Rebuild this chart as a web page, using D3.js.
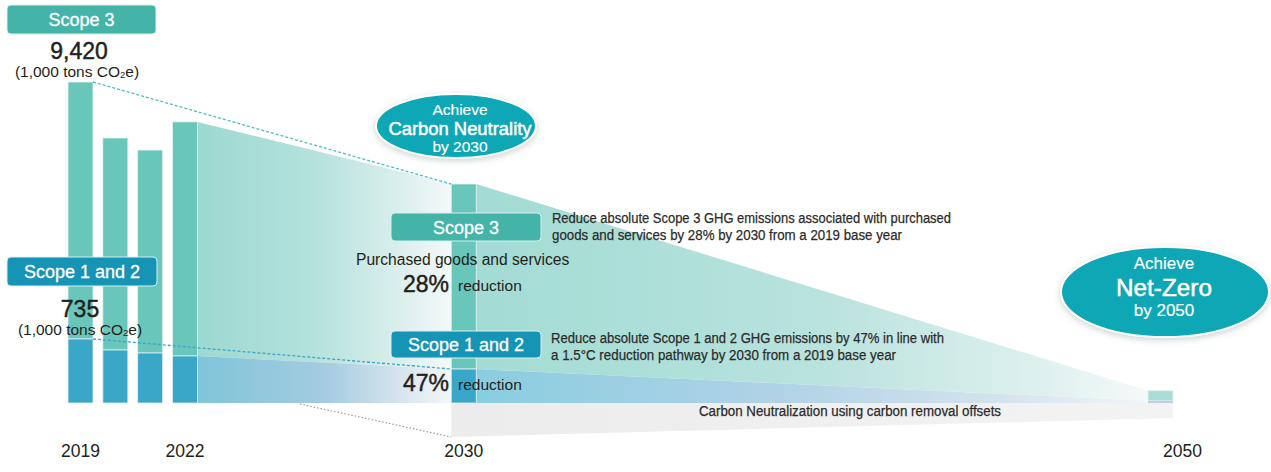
<!DOCTYPE html>
<html>
<head>
<meta charset="utf-8">
<script src="https://cdn.jsdelivr.net/npm/d3@7"></script>
<style>
  html, body { margin: 0; padding: 0; background: #ffffff; }
  svg { display: block; font-family: "Liberation Sans", Arial, Helvetica, sans-serif; }
</style>
</head>
<body>
<svg id="chart" width="1271" height="472"></svg>
<script>
// Emissions history (1,000 tons CO2e)
const years = [2019, 2020, 2021, 2022];
const scope3 = [9420, 7770, 7440, 8580];
const scope12 = [735, 609, 574, 540];

// Targets
const targetYear = 2030;
const target3 = 6782;   // 28% below 2019
const target12 = 390;   // 47% below 2019
const netZeroYear = 2050;
const residual3 = 370;
const residual12 = 25;

const tickYears = [2019, 2022, 2030, 2050];

const svg = d3.select("#chart");
const base = 403;
const barW = 25;

const x = d3.scaleLinear().domain([2019, 2050]).range([80.5, 1160.5]);
// Schematic: each scope segment has its own height scale
const h3 = d3.scaleLinear().domain([0, 9420]).range([0, 257]);
const h12 = d3.scaleLinear().domain([0, 735]).range([0, 64]);

const C = {
  s3: "#69c6ba",
  s12: "#3aa7c8",
  box3: "#44b4a8",
  box12: "#1694b6",
  ellipse: "#07a7b5",
  text: "#231f20"
};
const NARROW = '"Liberation Sans Narrow", "Arial Narrow", "Liberation Sans", sans-serif';

const defs = svg.append("defs");
function grad(id, x1, x2, stops) {
  const g = defs.append("linearGradient").attr("id", id)
    .attr("gradientUnits", "userSpaceOnUse")
    .attr("x1", x1).attr("x2", x2).attr("y1", 0).attr("y2", 0);
  stops.forEach(s => g.append("stop").attr("offset", s[0]).attr("stop-color", s[1]));
}
const shadow = defs.append("filter").attr("id", "glow")
  .attr("x", "-20%").attr("y", "-30%").attr("width", "140%").attr("height", "160%");
shadow.append("feDropShadow").attr("dx", 0).attr("dy", 2).attr("stdDeviation", 3)
  .attr("flood-color", "#6b7f84").attr("flood-opacity", 0.35);

// geometry helpers
const left = yr => x(yr) - barW / 2;
const right = yr => x(yr) + barW / 2;
const top12 = v => base - h12(v);
const top3 = (v3, v12) => top12(v12) - h3(v3);

const last = years.length - 1;
const y22 = years[last];
const t3_22 = top3(scope3[last], scope12[last]);
const t12_22 = top12(scope12[last]);
const t3_30 = top3(target3, target12);
const t12_30 = top12(target12);
const t3_50 = top3(residual3, residual12);
const t12_50 = top12(residual12);

grad("g3a", right(y22), left(targetYear), [[0, "#9cd9d0"], [0.45, "#b4e1dc"], [0.8, "#dbefed"], [1, "#f4f9f9"]]);
grad("g12a", right(y22), left(targetYear), [[0, "#80c5d9"], [0.5, "#a4cbe0"], [0.85, "#dfe9f1"], [1, "#f4f7fa"]]);
grad("g3b", right(targetYear), left(netZeroYear), [[0, "#a2dcd4"], [0.5, "#b8e2dd"], [0.85, "#dff1ef"], [1, "#f4faf9"]]);
grad("g12b", right(targetYear), left(netZeroYear), [[0, "#8acde0"], [0.45, "#b1d2e6"], [0.8, "#d6e4ee"], [1, "#f2f5f9"]]);
grad("gGrey", left(targetYear), right(netZeroYear), [[0, "#ececec"], [1, "#f3f3f3"]]);

const line = d3.line();

// Wedges from 2022 to 2030 and from 2030 to 2050
svg.append("path").attr("fill", "url(#g3a)")
  .attr("d", line([[right(y22), t3_22], [left(targetYear), t3_30], [left(targetYear), t12_30], [right(y22), t12_22]]) + "Z");
svg.append("path").attr("fill", "url(#g12a)")
  .attr("d", line([[right(y22), t12_22], [left(targetYear), t12_30], [left(targetYear), base], [right(y22), base]]) + "Z");
svg.append("path").attr("fill", "url(#g3b)")
  .attr("d", line([[right(targetYear), t3_30], [left(netZeroYear), t3_50], [left(netZeroYear), t12_50], [right(targetYear), t12_30]]) + "Z");
svg.append("path").attr("fill", "url(#g12b)")
  .attr("d", line([[right(targetYear), t12_30], [left(netZeroYear), t12_50], [left(netZeroYear), base], [right(targetYear), base]]) + "Z");

// Carbon removal offsets band
svg.append("path").attr("fill", "url(#gGrey)")
  .attr("d", line([[left(targetYear), base], [right(netZeroYear), base], [right(netZeroYear), base + 15], [left(targetYear), base + 34]]) + "Z");
svg.append("path").attr("fill", "none").attr("stroke", "#9a9a9a").attr("stroke-width", 1.2)
  .attr("stroke-dasharray", "1.5,2")
  .attr("d", line([[300, base + 1], [left(targetYear), base + 34]]));

// Historical stacked bars
const bars = svg.append("g");
years.forEach((yr, i) => {
  bars.append("rect").attr("x", left(yr)).attr("width", barW)
    .attr("y", top3(scope3[i], scope12[i])).attr("height", h3(scope3[i]))
    .attr("fill", C.s3).attr("stroke", "#e3f3f1").attr("stroke-width", 0.8);
  bars.append("rect").attr("x", left(yr)).attr("width", barW)
    .attr("y", top12(scope12[i])).attr("height", h12(scope12[i]))
    .attr("fill", C.s12).attr("stroke", "#e3f0f5").attr("stroke-width", 0.8);
});

// 2030 target column
bars.append("rect").attr("x", left(targetYear)).attr("width", barW)
  .attr("y", t3_30).attr("height", h3(target3))
  .attr("fill", C.s3).attr("stroke", "#e3f3f1").attr("stroke-width", 0.8);
bars.append("rect").attr("x", left(targetYear)).attr("width", barW)
  .attr("y", t12_30).attr("height", h12(target12))
  .attr("fill", C.s12).attr("stroke", "#e3f0f5").attr("stroke-width", 0.8);

// 2050 residual
bars.append("rect").attr("x", left(netZeroYear)).attr("width", barW)
  .attr("y", t3_50).attr("height", h3(residual3))
  .attr("fill", "#a8ddd5").attr("stroke", "#e8f4f2").attr("stroke-width", 0.8);
bars.append("rect").attr("x", left(netZeroYear)).attr("width", barW)
  .attr("y", t12_50).attr("height", h12(residual12))
  .attr("fill", "#c3cde8");

// Dotted guides from 2019 to 2030
svg.append("path").attr("fill", "none").attr("stroke", "#4dbcc0").attr("stroke-width", 1.3)
  .attr("stroke-dasharray", "3,2")
  .attr("d", line([[right(2019), top3(scope3[0], scope12[0])], [left(targetYear), t3_30]]));
svg.append("path").attr("fill", "none").attr("stroke", "#3aa6c6").attr("stroke-width", 1.3)
  .attr("stroke-dasharray", "3,2")
  .attr("d", line([[right(2019), top12(scope12[0])], [left(targetYear), t12_30]]));

// Labels
function box(x0, y0, w, h, fill, label) {
  svg.append("rect").attr("x", x0).attr("y", y0).attr("width", w).attr("height", h)
    .attr("rx", 4).attr("fill", fill).attr("stroke", "#d9eeec").attr("stroke-width", 1);
  svg.append("text").attr("x", x0 + w / 2).attr("y", y0 + h / 2 + 6.5)
    .attr("text-anchor", "middle").attr("fill", "#ffffff").attr("font-size", 18)
    .attr("stroke", "#ffffff").attr("stroke-width", 0.3)
    .text(label);
}
function unit(cx, y) {
  const t = svg.append("text").attr("x", cx).attr("y", y).attr("text-anchor", "middle")
    .attr("fill", C.text).attr("font-size", 15.5);
  t.append("tspan").text("(1,000 tons CO");
  t.append("tspan").attr("font-size", 9.5).attr("dy", 1).text("2");
  t.append("tspan").attr("dy", -1).text("e)");
}
function bigNumber(xp, yp, str, anchor) {
  svg.append("text").attr("x", xp).attr("y", yp).attr("text-anchor", anchor || "middle")
    .attr("fill", C.text).attr("font-size", 23)
    .attr("stroke", C.text).attr("stroke-width", 0.45)
    .text(str);
}

box(7, 5, 149, 29, C.box3, "Scope 3");
bigNumber(79, 59, d3.format(",")(scope3[0]));
unit(77, 77);

box(7, 257, 150, 29, C.box12, "Scope 1 and 2");
bigNumber(80, 317, d3.format(",")(scope12[0]));
unit(80, 335);

// Target call-outs
box(391, 213, 150, 28, C.box3, "Scope 3");
box(391, 331, 150, 27, C.box12, "Scope 1 and 2");

function narrow(xp, yp, len, str, size, anchor) {
  svg.append("text").attr("x", xp).attr("y", yp).attr("fill", "#2b2b2b")
    .attr("font-family", NARROW)
    .attr("font-size", size || 15.5).attr("text-anchor", anchor || "start")
    .attr("stroke", "#2b2b2b").attr("stroke-width", 0.25)
    .attr("textLength", len).attr("lengthAdjust", "spacingAndGlyphs").text(str);
}
narrow(552, 223, 399, "Reduce absolute Scope 3 GHG emissions associated with purchased");
narrow(552, 240, 350, "goods and services by 28% by 2030 from a 2019 base year");
narrow(551, 343, 393, "Reduce absolute Scope 1 and 2 GHG emissions by 47% in line with");
narrow(551, 360, 345, "a 1.5°C reduction pathway by 2030 from a 2019 base year");

svg.append("text").attr("x", 356).attr("y", 265).attr("fill", C.text)
  .attr("font-size", 15.6).text("Purchased goods and services");

const pct3 = Math.round((1 - target3 / scope3[0]) * 100);
const pct12 = Math.round((1 - target12 / scope12[0]) * 100);
[[pct3, 292], [pct12, 391]].forEach(([p, yp]) => {
  bigNumber(449, yp, p + "%", "end");
  svg.append("text").attr("x", 458).attr("y", yp - 1)
    .attr("fill", C.text).attr("font-size", 15.5).text("reduction");
});

narrow(850, 416, 302, "Carbon Neutralization using carbon removal offsets", 14, "middle");

// Milestone ellipses
function milestone(cx, cy, rx, ry, lines) {
  svg.append("ellipse").attr("cx", cx).attr("cy", cy).attr("rx", rx).attr("ry", ry)
    .attr("fill", C.ellipse).attr("stroke", "#ffffff").attr("stroke-width", 2)
    .attr("filter", "url(#glow)");
  lines.forEach(l => {
    svg.append("text").attr("x", l.x).attr("y", l.y).attr("text-anchor", "middle")
      .attr("fill", "#ffffff").attr("font-size", l.size)
      .attr("stroke", "#ffffff").attr("stroke-width", l.bold ? 0.5 : 0.15)
      .text(l.text);
  });
}
milestone(456, 126, 80, 32, [
  { x: 460, y: 115, size: 15.5, text: "Achieve" },
  { x: 460, y: 135, size: 18.4, text: "Carbon Neutrality", bold: true },
  { x: 460, y: 152, size: 15.5, text: "by " + targetYear }
]);
milestone(1165, 292, 104, 45, [
  { x: 1164, y: 269, size: 17, text: "Achieve" },
  { x: 1164, y: 296, size: 24.3, text: "Net-Zero", bold: true },
  { x: 1164, y: 316, size: 17, text: "by " + netZeroYear }
]);

// Year axis labels
svg.append("g").selectAll("text").data(tickYears).join("text")
  .attr("x", d => x(d) + (d === netZeroYear ? 22 : 0))
  .attr("y", 457).attr("text-anchor", "middle")
  .attr("fill", C.text).attr("font-family", NARROW).attr("font-size", 18)
  .attr("textLength", 39).attr("lengthAdjust", "spacingAndGlyphs")
  .text(d => d);
</script>
</body>
</html>
